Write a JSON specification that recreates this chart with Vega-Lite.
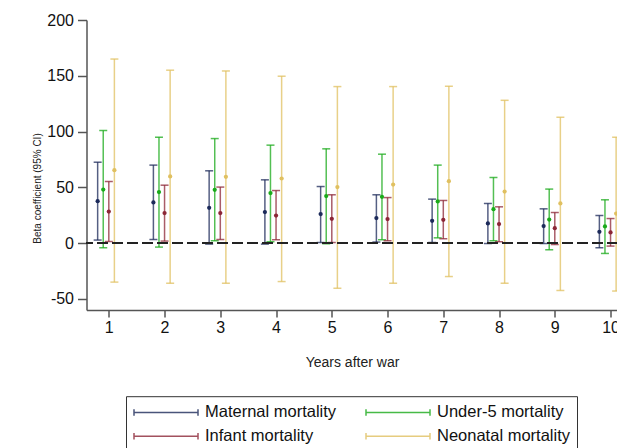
{
  "$schema": "https://vega.github.io/schema/vega-lite/v6.json",
  "usermeta": {"embedOptions": {"actions": false}},
  "width": 531,
  "height": 290,
  "autosize": {"type": "none"},
  "padding": {"left": 86.5, "top": 20, "right": 0, "bottom": 138},
  "config": {
    "view": {"stroke": null},
    "font": "Liberation Sans",
    "axis": {
      "domainColor": "#555555",
      "domainWidth": 1.5,
      "tickColor": "#555555",
      "tickWidth": 1.5,
      "tickSize": 8,
      "labelFontSize": 16,
      "labelColor": "#111111",
      "grid": false,
      "titleColor": "#222222",
      "titleFontWeight": "normal",
      "labelFont": "Liberation Sans",
      "titleFont": "Liberation Sans"
    },
    "legend": {
      "orient": "none",
      "legendX": 39.5,
      "legendY": 376.2,
      "columns": 2,
      "direction": "horizontal",
      "symbolType": "M-1,-0.4V0.4M-1,0H7M7,-0.4V0.4",
      "symbolSize": 256,
      "symbolStrokeWidth": 1.5,
      "symbolOpacity": 0.8,
      "symbolFillColor": "transparent",
      "labelFontSize": 16.5,
      "labelFont": "Liberation Sans",
      "labelColor": "#111111",
      "labelOffset": 54,
      "labelLimit": 300,
      "columnPadding": 26,
      "rowPadding": 6,
      "padding": 7,
      "strokeColor": "#333333",
      "strokeWidth": 1,
      "fillColor": "white"
    }
  },
  "data": {
    "values": [
      {"year": 1, "series": "Maternal mortality", "b": 37.6, "lo": 2.7, "hi": 72.5},
      {"year": 2, "series": "Maternal mortality", "b": 36.4, "lo": 3.2, "hi": 69.9},
      {"year": 3, "series": "Maternal mortality", "b": 31.6, "lo": -0.9, "hi": 64.8},
      {"year": 4, "series": "Maternal mortality", "b": 27.8, "lo": -0.9, "hi": 56.7},
      {"year": 5, "series": "Maternal mortality", "b": 26.0, "lo": 0.5, "hi": 50.7},
      {"year": 6, "series": "Maternal mortality", "b": 22.4, "lo": 0.9, "hi": 43.3},
      {"year": 7, "series": "Maternal mortality", "b": 20.0, "lo": 0.5, "hi": 39.4},
      {"year": 8, "series": "Maternal mortality", "b": 17.6, "lo": -0.4, "hi": 35.5},
      {"year": 9, "series": "Maternal mortality", "b": 15.2, "lo": -0.4, "hi": 30.7},
      {"year": 10, "series": "Maternal mortality", "b": 10.1, "lo": -4.2, "hi": 24.7},
      {"year": 1, "series": "Under-5 mortality", "b": 48.0, "lo": -4.2, "hi": 100.9},
      {"year": 2, "series": "Under-5 mortality", "b": 45.7, "lo": -3.6, "hi": 94.9},
      {"year": 3, "series": "Under-5 mortality", "b": 47.7, "lo": 2.1, "hi": 93.7},
      {"year": 4, "series": "Under-5 mortality", "b": 44.8, "lo": 1.2, "hi": 87.8},
      {"year": 5, "series": "Under-5 mortality", "b": 42.1, "lo": -0.6, "hi": 84.5},
      {"year": 6, "series": "Under-5 mortality", "b": 41.5, "lo": 3.0, "hi": 79.7},
      {"year": 7, "series": "Under-5 mortality", "b": 37.3, "lo": 4.7, "hi": 69.9},
      {"year": 8, "series": "Under-5 mortality", "b": 30.4, "lo": 2.1, "hi": 58.8},
      {"year": 9, "series": "Under-5 mortality", "b": 21.1, "lo": -6.0, "hi": 48.4},
      {"year": 10, "series": "Under-5 mortality", "b": 14.9, "lo": -9.3, "hi": 38.8},
      {"year": 1, "series": "Infant mortality", "b": 28.3, "lo": 1.4, "hi": 55.2},
      {"year": 2, "series": "Infant mortality", "b": 26.9, "lo": 1.8, "hi": 51.9},
      {"year": 3, "series": "Infant mortality", "b": 26.9, "lo": 3.2, "hi": 50.2},
      {"year": 4, "series": "Infant mortality", "b": 24.7, "lo": 3.0, "hi": 47.1},
      {"year": 5, "series": "Infant mortality", "b": 21.8, "lo": 0.5, "hi": 43.3},
      {"year": 6, "series": "Infant mortality", "b": 21.5, "lo": 2.1, "hi": 40.8},
      {"year": 7, "series": "Infant mortality", "b": 20.9, "lo": 3.9, "hi": 38.2},
      {"year": 8, "series": "Infant mortality", "b": 17.0, "lo": 1.2, "hi": 32.5},
      {"year": 9, "series": "Infant mortality", "b": 13.4, "lo": -1.3, "hi": 27.4},
      {"year": 10, "series": "Infant mortality", "b": 9.5, "lo": -2.7, "hi": 22.0},
      {"year": 1, "series": "Neonatal mortality", "b": 65.4, "lo": -35.0, "hi": 165.0},
      {"year": 2, "series": "Neonatal mortality", "b": 59.7, "lo": -36.0, "hi": 155.0},
      {"year": 3, "series": "Neonatal mortality", "b": 59.4, "lo": -36.0, "hi": 154.3},
      {"year": 4, "series": "Neonatal mortality", "b": 57.9, "lo": -34.5, "hi": 149.6},
      {"year": 5, "series": "Neonatal mortality", "b": 50.2, "lo": -40.5, "hi": 140.3},
      {"year": 6, "series": "Neonatal mortality", "b": 52.5, "lo": -36.0, "hi": 140.3},
      {"year": 7, "series": "Neonatal mortality", "b": 55.5, "lo": -30.0, "hi": 140.6},
      {"year": 8, "series": "Neonatal mortality", "b": 46.2, "lo": -36.0, "hi": 128.0},
      {"year": 9, "series": "Neonatal mortality", "b": 35.5, "lo": -42.5, "hi": 112.8},
      {"year": 10, "series": "Neonatal mortality", "b": 26.5, "lo": -43.0, "hi": 94.9}
    ]
  },
  "layer": [
    {
      "mark": {"type": "rule", "strokeWidth": 1.5, "opacity": 0.75,
        "xOffset": {"expr": "indexof(['Maternal mortality','Under-5 mortality','Infant mortality','Neonatal mortality'], datum.series) * 5.58 - 11.15"}},
      "encoding": {
        "x": {"field": "year", "type": "quantitative",
          "scale": {"domain": [0.6, 10.125], "nice": false, "zero": false},
          "axis": {"values": [1, 2, 3, 4, 5, 6, 7, 8, 9, 10], "format": "d", "title": "Years after war",
            "titleFontSize": 14, "labelPadding": 2, "tickSize": 7, "titleBaseline": "alphabetic", "titleY": 56.7}},
        "y": {"field": "lo", "type": "quantitative",
          "scale": {"domain": [-60, 200], "nice": false, "zero": false},
          "axis": {"values": [-50, 0, 50, 100, 150, 200], "labelExpr": "'' + datum.value", "title": "Beta coefficient (95% CI)",
            "titleFontSize": 10, "titleX": -49, "titleY": 168, "titleAlign": "center", "titleBaseline": "middle",
            "tickSize": 9, "labelPadding": 4}},
        "y2": {"field": "hi"},
        "color": {"field": "series", "type": "nominal",
          "scale": {"domain": ["Maternal mortality", "Under-5 mortality", "Infant mortality", "Neonatal mortality"],
            "range": ["#1c2a5a", "#1aaa1a", "#8c2636", "#e0c060"]},
          "legend": {"title": null}}
      }
    },
    {
      "mark": {"type": "tick", "orient": "horizontal", "size": 8, "thickness": 1.5, "opacity": 0.75,
        "xOffset": {"expr": "indexof(['Maternal mortality','Under-5 mortality','Infant mortality','Neonatal mortality'], datum.series) * 5.58 - 11.15"}},
      "encoding": {
        "x": {"field": "year", "type": "quantitative"},
        "y": {"field": "lo", "type": "quantitative"},
        "color": {"field": "series", "type": "nominal", "legend": null}
      }
    },
    {
      "mark": {"type": "tick", "orient": "horizontal", "size": 8, "thickness": 1.5, "opacity": 0.75,
        "xOffset": {"expr": "indexof(['Maternal mortality','Under-5 mortality','Infant mortality','Neonatal mortality'], datum.series) * 5.58 - 11.15"}},
      "encoding": {
        "x": {"field": "year", "type": "quantitative"},
        "y": {"field": "hi", "type": "quantitative"},
        "color": {"field": "series", "type": "nominal", "legend": null}
      }
    },
    {
      "mark": {"type": "point", "filled": true, "size": 18, "opacity": 1,
        "xOffset": {"expr": "indexof(['Maternal mortality','Under-5 mortality','Infant mortality','Neonatal mortality'], datum.series) * 5.58 - 11.15"}},
      "encoding": {
        "x": {"field": "year", "type": "quantitative"},
        "y": {"field": "b", "type": "quantitative"},
        "color": {"field": "series", "type": "nominal", "legend": null}
      }
    },
    {
      "mark": {"type": "rule", "strokeDash": [10, 5], "strokeWidth": 2, "color": "#222222"},
      "encoding": {"y": {"datum": 0}}
    }
  ]
}
